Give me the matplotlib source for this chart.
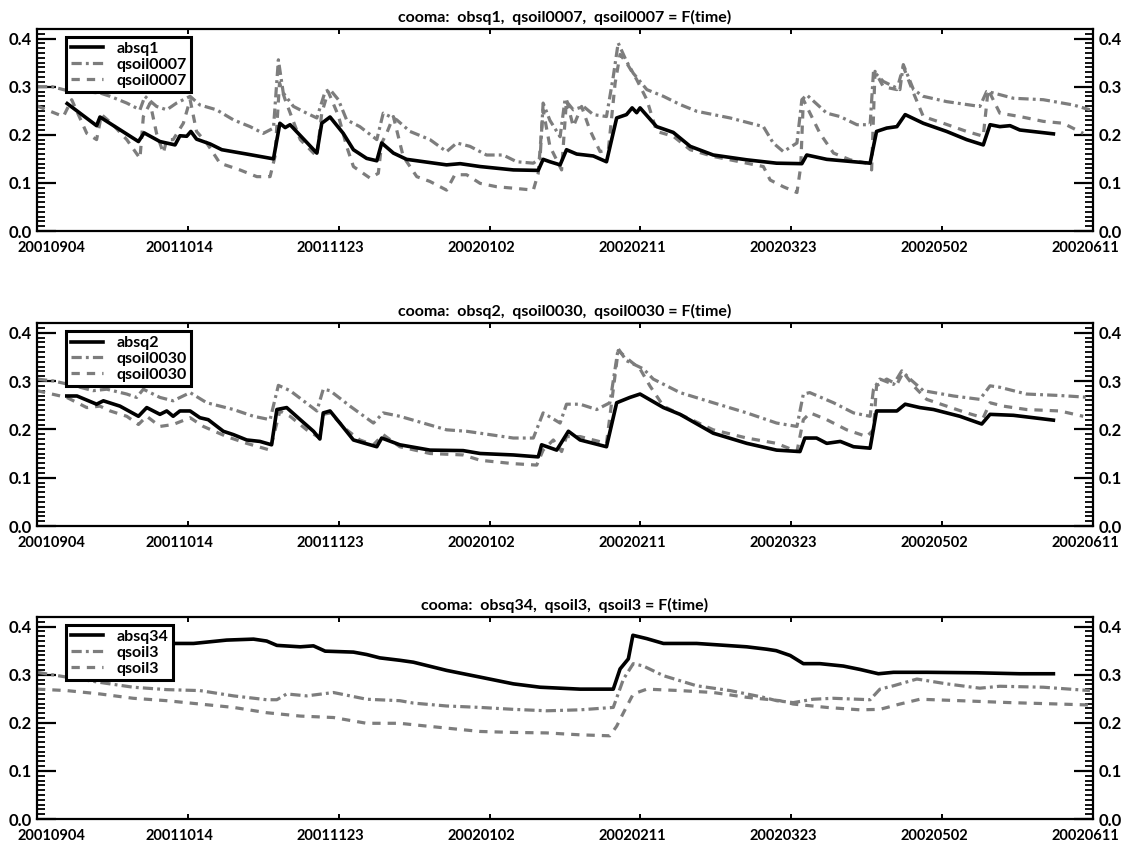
import matplotlib
matplotlib.use('Agg')
import matplotlib.pyplot as plt
from matplotlib.ticker import MultipleLocator, FixedLocator
import matplotlib.transforms as mtransforms
from matplotlib.lines import Line2D

plt.rcParams['font.family'] = ['Lato', 'DejaVu Sans']
plt.rcParams['font.weight'] = 'bold'

# ---------------- data ----------------
x_tick_days = [0, 40, 80, 120, 160, 200, 240, 280]
x_tick_labels = ['20010904', '20011014', '20011123', '20020102',
                 '20020211', '20020323', '20020502', '20020611']
y_ticks = [0.0, 0.1, 0.2, 0.3, 0.4]
y_tick_labels = ['0.0', '0.1', '0.2', '0.3', '0.4']

titles = ['cooma:  obsq1,  qsoil0007,  qsoil0007 = F(time)',
          'cooma:  obsq2,  qsoil0030,  qsoil0030 = F(time)',
          'cooma:  obsq34,  qsoil3,  qsoil3 = F(time)']
legend_labels = [['absq1', 'qsoil0007', 'qsoil0007'],
                 ['absq2', 'qsoil0030', 'qsoil0030'],
                 ['absq34', 'qsoil3', 'qsoil3']]

# Panel 1
p1_obs_day = [8, 15.8, 16.7, 26.9, 28.4, 32.6, 36.6, 37.9, 39.7, 40.8,
              42.3, 45.9, 49, 55.6, 62.7, 64.4, 65.8, 67.1, 74.2, 75.5,
              77.7, 81.2, 83.9, 87.4, 90.1, 91.4, 94.5, 98, 108.6, 112.2,
              117.5, 126.3, 132.9, 134.2, 136, 138.7, 140.4, 143.1, 147.5, 151,
              153.7, 156.3, 157.8, 159, 159.9, 164.3, 168.7, 173.2, 179.3, 188.2,
              196.1, 202.8, 204.1, 209.4, 220.9, 222.6, 225.3, 228, 230.2, 235,
              241.2, 246.5, 250.9, 252.7, 255.3, 258, 260.6, 269.5]
p1_obs_val = [0.265, 0.219, 0.237, 0.186, 0.204, 0.186, 0.179, 0.198, 0.197, 0.207,
              0.191, 0.181, 0.169, 0.160, 0.150, 0.224, 0.215, 0.221, 0.162, 0.224,
              0.237, 0.203, 0.169, 0.151, 0.146, 0.183, 0.162, 0.149, 0.1375, 0.140,
              0.134, 0.127, 0.126, 0.149, 0.144, 0.1375, 0.169, 0.160, 0.156, 0.144,
              0.235, 0.242, 0.256, 0.246, 0.256, 0.217, 0.205, 0.176, 0.158, 0.148,
              0.141, 0.140, 0.158, 0.149, 0.141, 0.207, 0.214, 0.217, 0.242, 0.224,
              0.207, 0.190, 0.179, 0.221, 0.217, 0.219, 0.210, 0.202]

p1_moda_day = [0, 4, 8, 16.7, 19.4, 23.8, 27.3, 28.6, 31.7, 34.4,
               37, 40.6, 43.2, 47.6, 52.1, 56.5, 60, 62.7, 64, 65.3,
               68, 71.5, 74.2, 76.4, 77.7, 79.9, 82.1, 85.6, 90.1, 91.8,
               95.4, 98.9, 104.2, 108.6, 111.3, 114.8, 119.2, 123.6, 127.2, 131.6,
               133.4, 134.2, 136, 138.7, 140, 142.2, 144.9, 147.5, 151, 152.8,
               154.1, 156.3, 158.1, 161.7, 166.1, 170.5, 174.9, 183.8, 192.6, 195.2,
               197.9, 201.5, 202.8, 204.1, 209.4, 212.9, 217.4, 220.9, 221.8, 224.4,
               228.8, 229.7, 232.4, 235, 241.2, 250, 251.8, 253.6, 258.9, 266.8,
               274.8, 279.2]
p1_moda_val = [0.300, 0.300, 0.292, 0.287, 0.280, 0.266, 0.252, 0.280, 0.259, 0.252,
               0.266, 0.280, 0.262, 0.252, 0.231, 0.217, 0.203, 0.214, 0.356, 0.287,
               0.259, 0.245, 0.235, 0.290, 0.294, 0.273, 0.231, 0.217, 0.190, 0.245,
               0.231, 0.207, 0.190, 0.165, 0.183, 0.176, 0.158, 0.158, 0.144, 0.141,
               0.151, 0.266, 0.230, 0.196, 0.273, 0.252, 0.259, 0.242, 0.238, 0.321,
               0.391, 0.353, 0.328, 0.294, 0.280, 0.263, 0.249, 0.235, 0.217, 0.183,
               0.165, 0.183, 0.273, 0.283, 0.245, 0.238, 0.221, 0.221, 0.332, 0.311,
               0.294, 0.346, 0.294, 0.280, 0.269, 0.259, 0.290, 0.287, 0.276, 0.273,
               0.262, 0.252]

p1_modb_day = [0, 7, 9.2, 13.2, 15.8, 17.1, 19.9, 23.8, 27.3, 28.2,
               30, 31.7, 33.5, 34.4, 36.1, 38.8, 40.6, 42.3, 45, 48.5,
               53.8, 58.3, 61.8, 63.1, 64.3, 65.8, 69.8, 74.2, 75.5, 77.2,
               79.9, 82.1, 83.9, 88.3, 90.5, 91.4, 92.7, 94.5, 97.1, 100.7,
               104.2, 108.6, 110.8, 113.9, 117.5, 121.9, 126.3, 131.6, 132.9, 134.2,
               136, 139.1, 140.4, 142.2, 144.4, 146.6, 149.3, 151.5, 153.3, 154.6,
               156.3, 159, 161.7, 164.3, 168.7, 173.2, 179.3, 188.2, 192.6, 194.4,
               197.9, 201.5, 202.5, 203.2, 207.6, 211.2, 215.6, 220, 221.3, 222.2,
               224.4, 228, 229.7, 232.4, 235, 240.3, 246.5, 250.9, 252.2, 255.3,
               260.6, 266.8, 272.1, 277.4]
p1_modb_val = [0.260, 0.238, 0.273, 0.203, 0.190, 0.242, 0.223, 0.190, 0.151, 0.238,
               0.266, 0.203, 0.162, 0.190, 0.190, 0.224, 0.273, 0.207, 0.183, 0.141,
               0.127, 0.113, 0.113, 0.155, 0.308, 0.273, 0.190, 0.155, 0.245, 0.290,
               0.240, 0.176, 0.134, 0.110, 0.120, 0.183, 0.203, 0.238, 0.155, 0.113,
               0.103, 0.085, 0.117, 0.117, 0.099, 0.092, 0.089, 0.085, 0.120, 0.252,
               0.176, 0.127, 0.273, 0.217, 0.259, 0.210, 0.165, 0.169, 0.308, 0.367,
               0.350, 0.315, 0.273, 0.207, 0.197, 0.169, 0.155, 0.141, 0.134, 0.106,
               0.092, 0.080, 0.134, 0.273, 0.203, 0.162, 0.148, 0.141, 0.127, 0.332,
               0.300, 0.294, 0.342, 0.287, 0.238, 0.224, 0.207, 0.197, 0.294, 0.245,
               0.238, 0.228, 0.224, 0.203]

# Panel 2
p2_obs_day = [7.9, 10.6, 15.8, 17.6, 22, 26.9, 29.1, 32.6, 34.4, 36.1,
              37.9, 40.6, 43.2, 45.4, 49.4, 52.1, 55.6, 59.1, 62.2, 63.6,
              66.2, 69.8, 73.3, 75, 75.9, 77.7, 80.3, 83.9, 87.4, 90.1,
              91.4, 96.2, 104.2, 113, 117.5, 126.3, 132.9, 133.8, 137.8, 140.9,
              144, 151, 153.7, 157.2, 159.9, 166.1, 170.5, 179.3, 188.2, 196.1,
              202.3, 203.6, 206.7, 209.4, 213, 216.5, 220.9, 222.6, 228, 230.2,
              234.1, 237.7, 244.7, 250.5, 252.7, 258.9, 269.5]
p2_obs_val = [0.269, 0.269, 0.252, 0.259, 0.248, 0.227, 0.245, 0.231, 0.238, 0.227,
              0.238, 0.238, 0.224, 0.220, 0.196, 0.189, 0.178, 0.175, 0.168, 0.241,
              0.245, 0.220, 0.196, 0.180, 0.234, 0.238, 0.213, 0.178, 0.170, 0.164,
              0.182, 0.168, 0.157, 0.156, 0.150, 0.147, 0.143, 0.168, 0.157, 0.196,
              0.178, 0.164, 0.255, 0.266, 0.273, 0.245, 0.231, 0.192, 0.171, 0.157,
              0.154, 0.182, 0.182, 0.171, 0.175, 0.164, 0.161, 0.238, 0.238, 0.252,
              0.245, 0.241, 0.227, 0.211, 0.231, 0.229, 0.219]

p2_moda_day = [0, 4.4, 9, 14.9, 18.5, 23.8, 26.4, 28.2, 32.6, 36.1,
               40.6, 45, 52.1, 57.4, 61.8, 64, 67.1, 74.2, 75.9, 77.7,
               83, 89.2, 91.8, 96.2, 102.4, 108.6, 113.9, 120.1, 126.3, 131.6,
               134.2, 138.7, 140.4, 144, 148.4, 151.9, 154.1, 156.3, 160.8, 163.4,
               170.5, 179.3, 188.2, 196.1, 201.5, 203.2, 204.9, 211.2, 216.5, 220.9,
               221.8, 223.5, 227.1, 229.3, 231.5, 235, 243, 250, 252.7, 255.3,
               262.4, 271.2, 279.2]
p2_moda_val = [0.304, 0.300, 0.292, 0.280, 0.283, 0.273, 0.266, 0.283, 0.266, 0.259,
               0.276, 0.255, 0.241, 0.227, 0.220, 0.291, 0.280, 0.238, 0.283, 0.280,
               0.248, 0.213, 0.234, 0.227, 0.213, 0.199, 0.196, 0.189, 0.182, 0.182,
               0.234, 0.213, 0.252, 0.252, 0.241, 0.255, 0.367, 0.342, 0.325, 0.304,
               0.276, 0.255, 0.234, 0.213, 0.206, 0.273, 0.276, 0.255, 0.234, 0.227,
               0.283, 0.304, 0.293, 0.321, 0.304, 0.280, 0.269, 0.262, 0.290, 0.287,
               0.273, 0.270, 0.266]

p2_modb_day = [0, 7.9, 13.2, 16.7, 19.4, 23.8, 26.9, 29.1, 32.6, 36.1,
               40.6, 44.1, 50.3, 55.6, 61.8, 64.4, 67.1, 71.5, 75, 75.9,
               77.7, 82.1, 85.6, 89.2, 91.8, 96.2, 104.2, 113, 117.5, 126.3,
               132.5, 134.2, 136.9, 139.1, 140.4, 144, 151, 154.1, 157.2, 159.9,
               162.5, 166.1, 170.5, 179.3, 188.2, 196.1, 201.5, 203.2, 205, 209.4,
               214.7, 220, 221.8, 222.6, 225.3, 228, 229.7, 232.4, 235.9, 241.2,
               246.5, 250.9, 252.7, 256.2, 262.4, 271.2, 277.4]
p2_modb_val = [0.280, 0.266, 0.245, 0.248, 0.238, 0.227, 0.210, 0.227, 0.206, 0.210,
               0.224, 0.206, 0.185, 0.171, 0.157, 0.238, 0.227, 0.199, 0.182, 0.231,
               0.234, 0.199, 0.178, 0.168, 0.189, 0.164, 0.150, 0.147, 0.136, 0.129,
               0.126, 0.157, 0.178, 0.154, 0.185, 0.185, 0.171, 0.363, 0.342, 0.325,
               0.290, 0.248, 0.231, 0.199, 0.182, 0.171, 0.154, 0.220, 0.234, 0.220,
               0.199, 0.185, 0.199, 0.290, 0.304, 0.293, 0.318, 0.290, 0.262, 0.248,
               0.234, 0.224, 0.255, 0.248, 0.241, 0.238, 0.227]

# Panel 3
p3_obs_day = [8, 41.5, 50.3, 57.4, 60.9, 63.6, 69.8, 73.3, 75, 76.4,
              83.9, 87.4, 90.9, 96.2, 99.8, 108.6, 117.5, 126.3, 133.4, 144,
              152.8, 154.6, 156.8, 158, 161.7, 166.1, 174.9, 188.2, 193.5, 196,
              199.7, 203.2, 207.6, 213.8, 218.2, 223.1, 227.1, 235.9, 249.2, 260.6,
              269.5]
p3_obs_val = [0.365, 0.365, 0.372, 0.374, 0.370, 0.361, 0.358, 0.360, 0.354, 0.349,
              0.347, 0.342, 0.335, 0.330, 0.326, 0.309, 0.295, 0.281, 0.274, 0.270,
              0.270, 0.312, 0.333, 0.382, 0.375, 0.365, 0.365, 0.358, 0.353, 0.350,
              0.340, 0.323, 0.323, 0.318, 0.311, 0.302, 0.305, 0.305, 0.304, 0.302,
              0.302]

p3_moda_day = [0, 7.9, 16.7, 25.5, 34.4, 43.2, 52.1, 60.9, 63.6, 66.2,
               71.5, 78.6, 83, 87.4, 96.2, 99.8, 108.6, 117.5, 126.3, 135.1,
               144, 152.8, 155.5, 158.1, 160.8, 166.1, 174.9, 183.8, 192.6, 196.1,
               200.5, 205.8, 211.1, 220.9, 223.5, 227.1, 233.3, 241.2, 250, 255.3,
               266.8, 279.2]
p3_moda_val = [0.305, 0.295, 0.284, 0.274, 0.269, 0.267, 0.256, 0.248, 0.248, 0.260,
               0.256, 0.263, 0.256, 0.249, 0.246, 0.241, 0.235, 0.232, 0.228, 0.225,
               0.227, 0.232, 0.291, 0.323, 0.318, 0.298, 0.277, 0.267, 0.253, 0.246,
               0.242, 0.249, 0.251, 0.248, 0.270, 0.277, 0.291, 0.281, 0.272, 0.276,
               0.274, 0.267]

p3_modb_day = [0, 7.9, 16.7, 25.5, 34.4, 43.2, 52.1, 60.9, 69.8, 78.6,
               87.4, 96.2, 99.8, 108.6, 117.5, 126.3, 135.1, 144, 151.9, 153.7,
               155.5, 158.1, 161.7, 170.5, 179.3, 188.2, 197, 200.5, 209.4, 218.2,
               223.5, 228.8, 234.1, 244.7, 258, 271.2, 279.2]
p3_modb_val = [0.270, 0.267, 0.260, 0.251, 0.246, 0.239, 0.232, 0.221, 0.214, 0.211,
               0.199, 0.199, 0.196, 0.189, 0.182, 0.180, 0.179, 0.175, 0.173, 0.193,
               0.221, 0.260, 0.270, 0.267, 0.263, 0.253, 0.246, 0.239, 0.232, 0.227,
               0.228, 0.239, 0.249, 0.246, 0.242, 0.239, 0.237]

panels = [
    (p1_obs_day, p1_obs_val, p1_moda_day, p1_moda_val, p1_modb_day, p1_modb_val),
    (p2_obs_day, p2_obs_val, p2_moda_day, p2_moda_val, p2_modb_day, p2_modb_val),
    (p3_obs_day, p3_obs_val, p3_moda_day, p3_moda_val, p3_modb_day, p3_modb_val),
]

# ---------------- figure ----------------
W, H = 1138, 847
fig = plt.figure(figsize=(W / 100, H / 100), dpi=100)
fig.patch.set_facecolor('white')

left_px, right_px = 37, 1093
tops_px = [29, 323, 617]
bottoms_px = [231, 526, 819]

GRAY = '#7d7d7d'
LW = 2.3
DASHDOT = (3.2, 1.3, 0.9, 1.3)
DASHED = (2.6, 2.2)

for i, (od, ov, ad, av, bd, bv) in enumerate(panels):
    pos = [left_px / W, 1 - bottoms_px[i] / H,
           (right_px - left_px) / W, (bottoms_px[i] - tops_px[i]) / H]
    ax = fig.add_axes(pos)
    ax.plot(ad, av, color=GRAY, lw=LW, dashes=DASHDOT, zorder=2)
    ax.plot(bd, bv, color=GRAY, lw=LW, dashes=DASHED, zorder=2)
    ax.plot(od, ov, color='black', lw=LW + 0.3, zorder=3)

    ax.set_xlim(0, 280)
    ax.set_ylim(0, 0.42)
    ax.xaxis.set_major_locator(FixedLocator(x_tick_days))
    ax.set_xticklabels(x_tick_labels)
    ax.yaxis.set_major_locator(FixedLocator(y_ticks))
    ax.set_yticklabels(y_tick_labels)
    ax.yaxis.set_minor_locator(MultipleLocator(0.01))

    for s in ax.spines.values():
        s.set_linewidth(1.6)

    ax.tick_params(axis='y', which='major', direction='in', length=14, width=1.6,
                   left=True, right=True, labelleft=True, labelright=True,
                   labelsize=12, pad=4)
    ax.tick_params(axis='y', which='minor', direction='in', length=6, width=1.3,
                   left=True, right=True)
    ax.tick_params(axis='x', which='major', direction='in', length=3.5, width=1.4,
                   top=True, bottom=True, labelsize=10.5, pad=7)
    ax.tick_params(axis='x', which='minor', bottom=False, top=False)

    off = mtransforms.ScaledTranslation(-8 / 100, 0, fig.dpi_scale_trans)
    for k, lab in enumerate(ax.get_xticklabels()):
        if k == 0:
            lab.set_ha('left')
            lab.set_transform(lab.get_transform() +
                              mtransforms.ScaledTranslation(-20 / 100, 0, fig.dpi_scale_trans))
        else:
            lab.set_transform(lab.get_transform() + off)

    ax.set_title(titles[i], fontsize=11.5, fontweight='bold', pad=5)

    h = [Line2D([], [], color='black', lw=LW + 0.3),
         Line2D([], [], color=GRAY, lw=LW, dashes=DASHDOT),
         Line2D([], [], color=GRAY, lw=LW, dashes=DASHED)]
    leg = ax.legend(h, legend_labels[i], loc='upper left',
                    bbox_to_anchor=(0.0275, 0.96), borderaxespad=0,
                    frameon=True, fancybox=False,
                    handlelength=2.0, handletextpad=0.85, labelspacing=0.1,
                    borderpad=0.3, prop={'weight': 'bold', 'size': 11.5})
    leg.get_frame().set_edgecolor('black')
    leg.get_frame().set_linewidth(2.2)
    leg.get_frame().set_facecolor('white')
    leg.get_frame().set_alpha(1)
    leg.set_zorder(5)

fig.savefig('out.png', dpi=100, facecolor='white')
